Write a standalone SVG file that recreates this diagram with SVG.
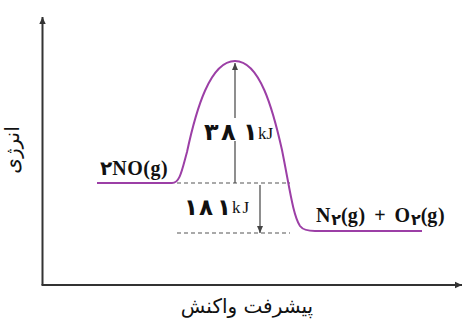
<svg xmlns="http://www.w3.org/2000/svg" width="465" height="322" viewBox="0 0 465 322">
<style>
.axis{stroke:#333;stroke-width:2;fill:none}
.curve{stroke:#9c3fa6;stroke-width:2;fill:none}
.dash{stroke:#555;stroke-width:1.2;stroke-dasharray:4 3;fill:none}
.arr{stroke:#444;stroke-width:1.2;fill:none}
.chem{font-family:"Liberation Serif","Times New Roman",serif;font-weight:bold;font-size:20px;fill:#111}
.fa{font-family:"DejaVu Sans",sans-serif;fill:#111}
.kj{font-family:"Liberation Serif",serif;font-size:17px;fill:#111}
</style>
<defs>
<marker id="ah" markerWidth="8" markerHeight="8" refX="7" refY="4" orient="auto" markerUnits="userSpaceOnUse">
<path d="M0,0.8 L7,4 L0,7.2 Z" fill="#333"/>
</marker>
<marker id="ah2" markerWidth="8" markerHeight="8" refX="7" refY="4" orient="auto" markerUnits="userSpaceOnUse">
<path d="M0,1 L7,4 L0,7 Z" fill="#444"/>
</marker>
</defs>
<g id="axes">
<line class="axis" x1="42.5" y1="285" x2="42.5" y2="17" marker-end="url(#ah)"/>
<line class="axis" x1="41.5" y1="285" x2="462" y2="285" marker-end="url(#ah)"/>
<text class="fa" font-size="20" text-anchor="middle" transform="translate(19,150) rotate(-90)">انرژی</text>
<text class="fa" font-size="20" x="247" y="313" text-anchor="middle">پیشرفت واکنش</text>
</g>
<g id="curve">
<path class="curve" d="M97,183 H172 C180,183 182,170 187,152 C196,110 210,61 235,61 C260,61 273,110 282,150 C290,190 293,215 300,226 C303,230 308,231 315,231 H422"/>
</g>
<g id="connectors">
<line class="dash" x1="177" y1="183" x2="290" y2="183"/>
<line class="dash" x1="177" y1="233" x2="290" y2="233"/>
<line class="arr" x1="235" y1="118" x2="235" y2="63" marker-end="url(#ah2)"/>
<line class="arr" x1="235" y1="183" x2="235" y2="141"/>
<line class="arr" x1="260" y1="185" x2="260" y2="233" marker-end="url(#ah2)"/>
</g>
<g id="reactants">
<text class="chem" x="100" y="175" letter-spacing="0.5"><tspan font-family="DejaVu Sans,sans-serif">۲</tspan>NO(g)</text>
</g>
<g id="products">
<text class="chem" x="316" y="222" font-size="21" letter-spacing="0.8" word-spacing="4">N<tspan font-family="DejaVu Sans,sans-serif" font-size="16" dy="3">۲</tspan><tspan dy="-3">(g) + O</tspan><tspan font-family="DejaVu Sans,sans-serif" font-size="16" dy="3">۲</tspan><tspan dy="-3">(g)</tspan></text>
</g>
<g id="ea-label">
<text class="fa" font-weight="bold" font-size="24" y="140"><tspan x="204">۳</tspan><tspan x="221">۸</tspan><tspan x="243">۱</tspan></text>
<text class="kj" x="258" y="139">kJ</text>
</g>
<g id="dh-label">
<text class="fa" font-weight="bold" font-size="23" y="215"><tspan x="184">۱</tspan><tspan x="199">۸</tspan><tspan x="217">۱</tspan></text>
<text class="kj" font-size="18" letter-spacing="2" x="232" y="213">kJ</text>
</g>
</svg>
